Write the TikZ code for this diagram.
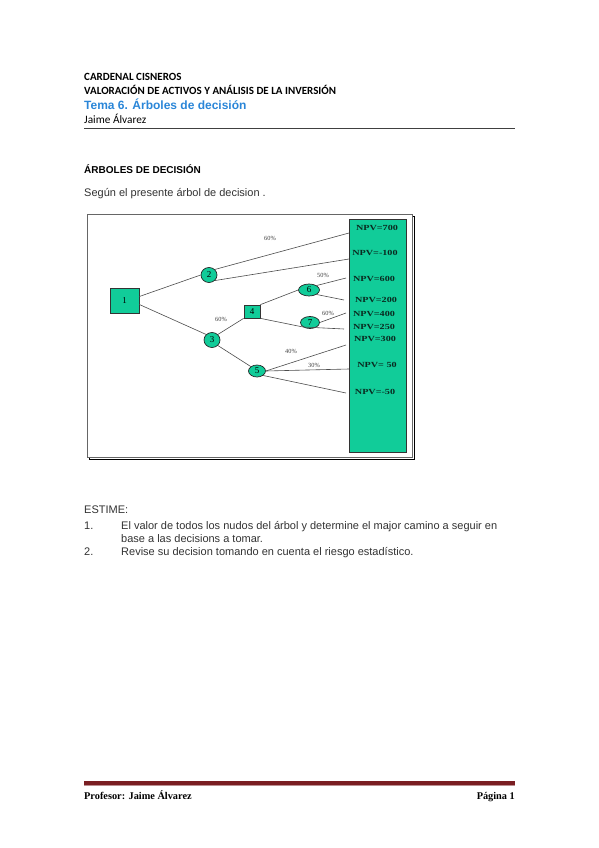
\documentclass[tikz,border=0pt]{standalone}
\usepackage{fontspec}
\setmainfont{Liberation Serif}
\newfontfamily\arialf{Liberation Sans}
\newfontfamily\calib{Carlito}
\usetikzlibrary{shapes.geometric}
\definecolor{tealg}{HTML}{11CC99}
\definecolor{blueT}{HTML}{2A86D8}
\definecolor{npvtxt}{HTML}{0A2A20}
\definecolor{footred}{HTML}{7A1E22}
\tikzset{
  x=1pt,y=-1pt,
  sq/.style={draw=black!80,fill=tealg,line width=0.7pt,inner sep=0pt,font=\fontsize{9}{9}\selectfont},
  ell/.style={ellipse,draw=black!85,fill=tealg,line width=0.7pt,inner sep=0pt,font=\fontsize{9}{9}\selectfont},
  br/.style={draw=black!70,line width=0.6pt},
  pct/.style={font=\fontsize{6.3}{6.5}\selectfont,text=black!75,inner sep=0pt},
  npv/.style={font=\fontsize{7.8}{8}\selectfont\bfseries,text=npvtxt,inner sep=0pt},
  hdr/.style={anchor=base west,inner sep=0pt,font=\calib\bfseries\fontsize{11}{12}\selectfont},
  body/.style={anchor=base west,inner sep=0pt,font=\arialf\fontsize{11}{12}\selectfont,text=black!80},
}
\newcommand{\wide}[1]{\scalebox{1.3}[1]{#1}}
\begin{document}
\begin{tikzpicture}
\useasboundingbox[fill=white] (0,0) rectangle (599,848);
% header
\node[hdr] (h1) at (84,80.5) {CARDENAL CISNEROS};
\node[hdr] (h2) at (84,94.5) {VALORACIÓN DE ACTIVOS Y ANÁLISIS DE LA INVERSIÓN};
\node[anchor=base west,inner sep=0pt,font=\arialf\bfseries\fontsize{12}{13}\selectfont,text=blueT] (h3) at (84,109.5) {Tema 6. Árboles de decisión};
\node[anchor=base west,inner sep=0pt,font=\calib\fontsize{11.3}{12}\selectfont] (h4) at (84,123.5) {Jaime Álvarez};
\draw[black!75,line width=0.6pt] (84,128.5) -- (515,128.5);
% titles
\node[anchor=base west,inner sep=0pt,font=\arialf\bfseries\fontsize{10}{11}\selectfont] (t1) at (84,173.5) {ÁRBOLES DE DECISIÓN};
\node[body] (t2) at (84,196) {Según el presente árbol de decision .};
% frame
\draw[black,line width=0.6pt] (89,216) rectangle (414,459);
\draw[black!60,fill=white,line width=0.6pt] (87,214) rectangle (412,457);
\draw[black!80,fill=tealg,line width=0.8pt] (349,219) rectangle (406,452);
% nodes
\node[sq,minimum width=29pt,minimum height=25pt] (n1) at (124.5,300.5) {1};
\node[ell,minimum width=16pt,minimum height=15pt] (n2) at (209,275) {2};
\node[ell,minimum width=16pt,minimum height=15pt] (n3) at (212,340) {3};
\node[sq,minimum width=16pt,minimum height=13pt] (n4) at (252,311.5) {4};
\node[ell,minimum width=17pt,minimum height=12pt] (n5) at (257,371) {5};
\node[ell,minimum width=21pt,minimum height=12pt] (n6) at (309,290) {6};
\node[ell,minimum width=19pt,minimum height=12pt] (n7) at (310,322.5) {7};
% NPV labels
\node[npv] (v1) at (377,228) {\wide{NPV=700}};
\node[npv] (v2) at (375,253) {\wide{NPV=-100}};
\node[npv] (v3) at (374,279) {\wide{NPV=600}};
\node[npv] (v4) at (376,300) {\wide{NPV=200}};
\node[npv] (v5) at (374,313.5) {\wide{NPV=400}};
\node[npv] (v6) at (374,326.5) {\wide{NPV=250}};
\node[npv] (v7) at (375,339) {\wide{NPV=300}};
\node[npv] (v8) at (377,365) {\wide{NPV= 50}};
\node[npv] (v9) at (375,392) {\wide{NPV=-50}};
% end points
\coordinate (e1) at (349,233);
\coordinate (e2) at (349,259);
\coordinate (e3) at (346,278);
\coordinate (e4) at (344,300);
\coordinate (e5) at (346,313);
\coordinate (e6) at (344,329);
\coordinate (e7) at (346,345);
\coordinate (e8) at (349,369);
\coordinate (e9) at (346,393);
% branches
\draw[br] (n1.east) ++(0,-4) -- (n2.west);
\draw[br] (n1.east) ++(0,4) -- (n3.north west);
\draw[br] (n2.north east) -- (e1);
\draw[br] (n2.south east) -- (e2);
\draw[br] (n3.north east) -- (n4.south west);
\draw[br] (n3.south east) -- (n5.north west);
\draw[br] (n4.north east) -- (n6.west);
\draw[br] (n4.south east) -- (n7.south west) -- (e6);
\draw[br] (n6.north east) -- (e3);
\draw[br] (n6.south east) -- (e4);
\draw[br] (n7.east) -- (e5);
\draw[br] (n5.east) -- (e7);
\draw[br] (n5.east) -- (e8);
\draw[br] (n5.south east) -- (e9);
% percentages
\node[pct] (p1) at (270,238) {60\%};
\node[pct] (p2) at (323,275.5) {50\%};
\node[pct] (p3) at (221,319) {60\%};
\node[pct] (p4) at (328,313.5) {60\%};
\node[pct] (p5) at (291,351) {40\%};
\node[pct] (p6) at (314,365) {30\%};
% estime
\node[body] (s1) at (84,513) {ESTIME:};
\node[body] (l1n) at (84,529) {1.};
\node[body] (l1a) at (121,529) {El valor de todos los nudos del árbol y determine el major camino a seguir en};
\node[body] (l1b) at (121,542) {base a las decisions a tomar.};
\node[body] (l2n) at (84,555) {2.};
\node[body] (l2a) at (121,555) {Revise su decision tomando en cuenta el riesgo estadístico.};
% footer
\draw[footred,line width=3.5pt] (84,783) -- (515,783);
\draw[footred!50,line width=0.6pt] (84,785.5) -- (515,785.5);
\node[anchor=base west,inner sep=0pt,font=\bfseries\fontsize{10.3}{11}\selectfont] (f1) at (84,799) {Profesor: Jaime Álvarez};
\node[anchor=base east,inner sep=0pt,font=\bfseries\fontsize{10.3}{11}\selectfont] (f2) at (515,799) {Página 1};
\end{tikzpicture}
\end{document}
